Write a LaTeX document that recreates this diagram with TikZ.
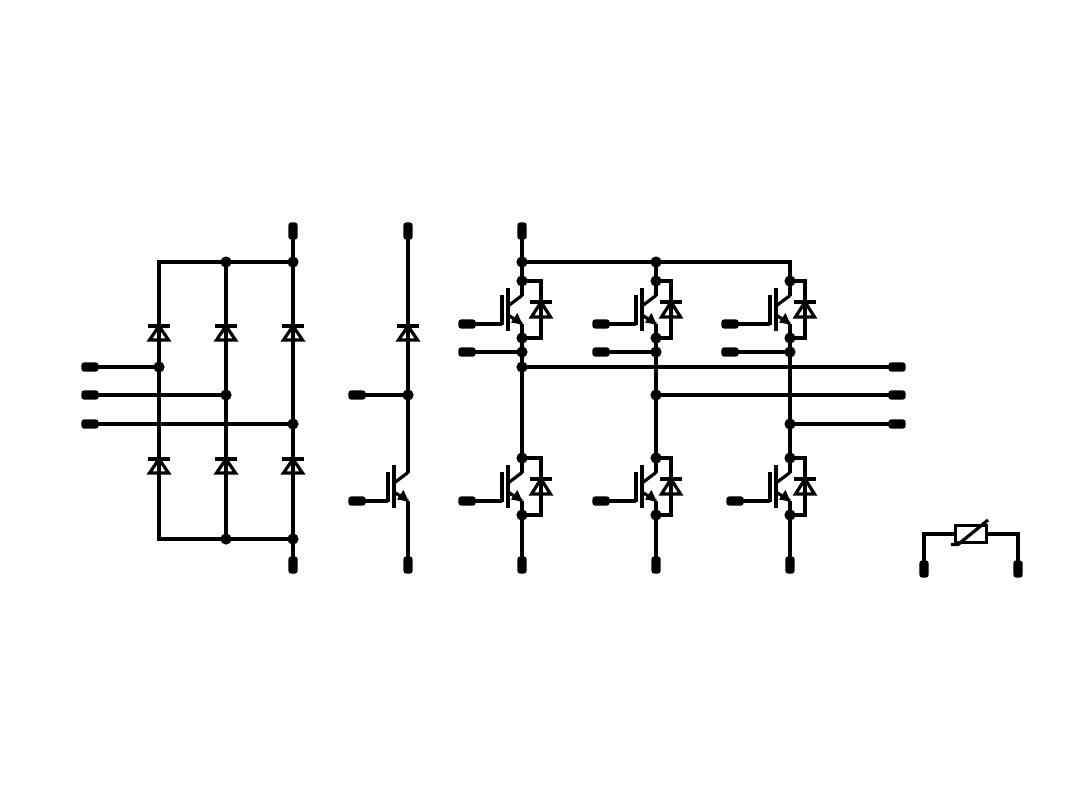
\documentclass[tikz,border=0pt]{standalone}
\tikzset{
  wire/.style={draw=black,line width=2.4pt,line cap=butt,line join=miter},
  jdot/.style={circle,fill=black,draw=none,minimum size=8.4pt,inner sep=0pt,outer sep=-1pt},
  termh/.style={rectangle,rounded corners=2.2pt,fill=black,draw=none,minimum width=13pt,minimum height=7pt,inner sep=0pt,outer sep=-1pt},
  termv/.style={rectangle,rounded corners=2.2pt,fill=black,draw=none,minimum width=7pt,minimum height=13pt,inner sep=0pt,outer sep=-1pt},
}
% #1 name, #2 wire x, #3 bar y, #4 base y
\newcommand{\mydiode}[4]{%
  \coordinate (#1a) at (#2-11,#3);
  \coordinate (#1b) at (#2+11,#3);
  \coordinate (#1c) at (#2-9.5,#4);
  \coordinate (#1d) at (#2+9.5,#4);
  \coordinate (#1e) at (#2,#3);
  \draw[wire] (#1a) -- (#1b);
  \draw[wire,line join=miter] (#1e) -- (#1c) -- (#1d) -- cycle;
}
% #1 name, #2 collector x, #3 gate y, #4 gate terminal
\newcommand{\myigbt}[4]{%
  \begin{scope}[shift={(#2,#3)}]
    \coordinate (#1c) at (0,-28.5);
    \coordinate (#1d) at (-14,-18);
    \coordinate (#1e) at (-14,-9);
    \coordinate (#1f) at (0,0);
    \coordinate (#1p) at (-14,-36);
    \coordinate (#1q) at (-14,7);
    \coordinate (#1r) at (-20,-29);
    \coordinate (#1g) at (-20,0);
    \coordinate (#1s) at (-20,1.2);
    \coordinate (#1t) at (0.5,0.5);
    \coordinate (#1u) at (-4.5,-11);
    \coordinate (#1v) at (-11,-1.5);
  \end{scope}
  \draw[wire] (#1p) -- (#1q);
  \draw[wire] (#1r) -- (#1s);
  \draw[wire] (#4) -- (#1g);
  \draw[wire] (#1c) -- (#1d);
  \draw[wire] (#1e) -- (#1f);
  \fill[black] (#1t) -- (#1u) -- (#1v) -- cycle;
}
% #1 name, #2 column x, #3 diode x, #4 gate y, #5 gate terminal x
\newcommand{\mycell}[5]{%
  \node[termh] (#1G) at (#5,#4) {};
  \myigbt{#1i}{#2}{#4}{#1G}
  \node[jdot] (#1T) at (#2,#4-43) {};
  \node[jdot] (#1B) at (#2,#4+14) {};
  \coordinate (#1x) at (#3,#4-43);
  \coordinate (#1y) at (#3,#4+14);
  \draw[wire] (#1T) -- (#1ic);
  \draw[wire] (#1if) -- (#1B);
  \draw[wire] (#1T) -- (#1x) -- (#1y) -- (#1B);
  \mydiode{#1d}{#3}{#4-22}{#4-7}
}
\begin{document}
\begin{tikzpicture}[x=0.75pt,y=-0.75pt]
\useasboundingbox (0,0) rectangle (1080,810);
% ---------- rectifier
\node[termv] (rT) at (293,231) {};
\node[termv] (rB) at (293,565) {};
\node[termh] (in1) at (90,367) {};
\node[termh] (in2) at (90,395) {};
\node[termh] (in3) at (90,424) {};
\coordinate (c1) at (159,262);
\coordinate (c2) at (159,539);
\node[jdot] (t2) at (226,262) {};
\node[jdot] (t3) at (293,262) {};
\node[jdot] (b2) at (226,539) {};
\node[jdot] (b3) at (293,539) {};
\node[jdot] (m1) at (159,367) {};
\node[jdot] (m2) at (226,395) {};
\node[jdot] (m3) at (293,424) {};
\draw[wire] (rT) -- (t3);
\draw[wire] (t3) -- (m3);
\draw[wire] (m3) -- (b3);
\draw[wire] (b3) -- (rB);
\draw[wire] (t2) -- (m2);
\draw[wire] (m2) -- (b2);
\draw[wire] (m1) -- (c1) -- (t2);
\draw[wire] (m1) -- (c2) -- (b2);
\draw[wire] (t3) -- (t2);
\draw[wire] (b3) -- (b2);
\draw[wire] (in1) -- (m1);
\draw[wire] (in2) -- (m2);
\draw[wire] (in3) -- (m3);
\mydiode{da}{159}{326}{340}
\mydiode{db}{226}{326}{340}
\mydiode{dc}{293}{326}{340}
\mydiode{dd}{159}{459}{473}
\mydiode{de}{226}{459}{473}
\mydiode{df}{293}{459}{473}
% ---------- brake
\node[termv] (kT) at (408,231) {};
\node[termv] (kB) at (408,565) {};
\node[termh] (kM) at (357,395) {};
\node[termh] (kG) at (357,501) {};
\node[jdot] (kJ) at (408,395) {};
\draw[wire] (kM) -- (kJ);
\draw[wire] (kT) -- (kJ);
\myigbt{ki}{408}{501}{kG}
\draw[wire] (kJ) -- (kic);
\draw[wire] (kif) -- (kB);
\mydiode{kd}{408}{326}{340}
% ---------- inverter
\mycell{ua}{522}{541}{324}{467}
\mycell{ub}{656}{671}{324}{601}
\mycell{uc}{790}{805}{324}{730}
\mycell{la}{522}{541}{501}{467}
\mycell{lb}{656}{671}{501}{601}
\mycell{lc}{790}{805}{501}{735}
\node[termv] (pT) at (522,231) {};
\node[jdot] (p1) at (522,262) {};
\node[jdot] (p2) at (656,262) {};
\coordinate (p3) at (790,262);
\draw[wire] (pT) -- (p1);
\draw[wire] (p1) -- (uaT);
\draw[wire] (p2) -- (ubT);
\draw[wire] (p1) -- (p2);
\draw[wire] (p2) -- (p3) -- (ucT);
\node[termh] (aa) at (467,352) {};
\node[termh] (ab) at (601,352) {};
\node[termh] (ac) at (730,352) {};
\node[jdot] (ja) at (522,352) {};
\node[jdot] (jb) at (656,352) {};
\node[jdot] (jc) at (790,352) {};
\draw[wire] (aa) -- (ja);
\draw[wire] (ab) -- (jb);
\draw[wire] (ac) -- (jc);
\draw[wire] (uaB) -- (ja);
\draw[wire] (ubB) -- (jb);
\draw[wire] (ucB) -- (jc);
\node[jdot] (oa) at (522,367) {};
\node[jdot] (ob) at (656,395) {};
\node[jdot] (oc) at (790,424) {};
\node[termh] (ra) at (897,367) {};
\node[termh] (rb) at (897,395) {};
\node[termh] (rc) at (897,424) {};
\draw[wire] (oa) -- (ra);
\draw[wire] (ob) -- (rb);
\draw[wire] (oc) -- (rc);
\draw[wire] (ja) -- (oa);
\draw[wire] (oa) -- (laT);
\draw[wire] (jb) -- (ob);
\draw[wire] (ob) -- (lbT);
\draw[wire] (jc) -- (oc);
\draw[wire] (oc) -- (lcT);
\node[termv] (na) at (522,565) {};
\node[termv] (nb) at (656,565) {};
\node[termv] (nc) at (790,565) {};
\draw[wire] (laB) -- (na);
\draw[wire] (lbB) -- (nb);
\draw[wire] (lcB) -- (nc);
% ---------- varistor
\node[termv] (vL) at (924,569) {};
\node[termv] (vR) at (1018,569) {};
\node[draw=black,line width=2.4pt,rectangle,minimum width=23.5pt,minimum height=13pt,inner sep=0pt] (vB) at (971,534) {};
\coordinate (vc) at (924,534);
\coordinate (vd) at (1018,534);
\draw[wire] (vL) -- (vc) -- (vB);
\draw[wire] (vR) -- (vd) -- (vB);
\coordinate (ve) at (951,544.5);
\coordinate (vf) at (958,544.5);
\coordinate (vg) at (988,520);
\draw[wire] (ve) -- (vf) -- (vg);
\end{tikzpicture}
\end{document}
